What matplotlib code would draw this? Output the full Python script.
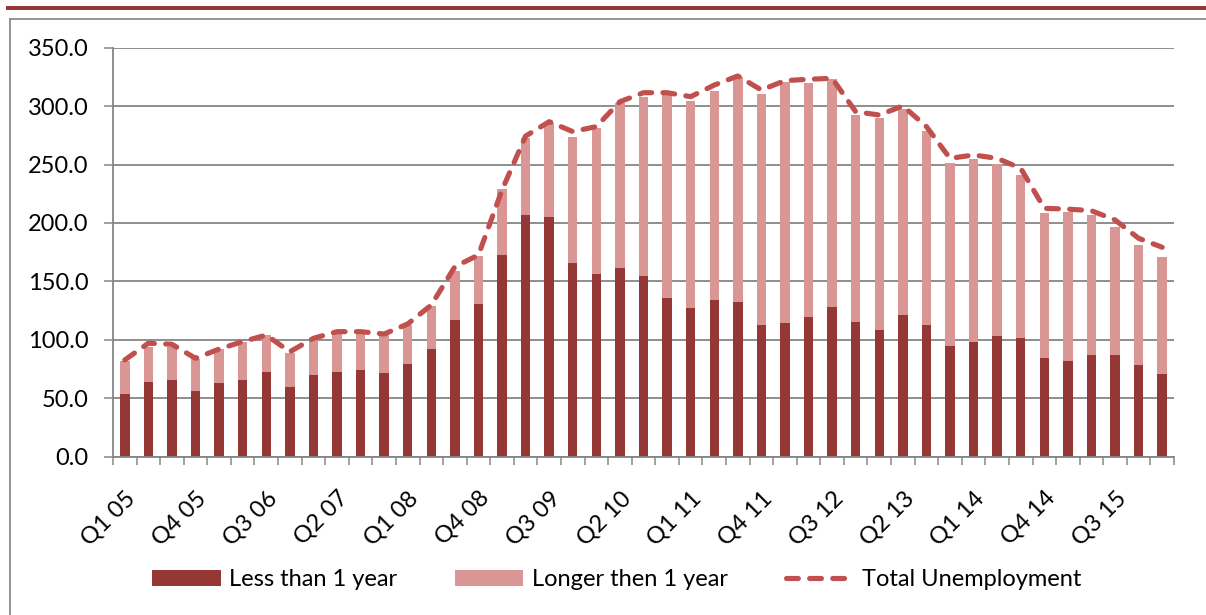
import matplotlib
matplotlib.use("Agg")
import matplotlib.pyplot as plt
import matplotlib.transforms as mtransforms
from matplotlib.lines import Line2D
from matplotlib.patches import Rectangle
import numpy as np

plt.rcParams['font.family'] = ['Lato', 'DejaVu Sans']

quarters = [f"Q{q} {y:02d}" for y in range(5, 17) for q in range(1, 5)][:45]

less_than_1y = [53.4, 64.2, 65.9, 56.0, 63.3, 65.9, 72.8, 59.9, 70.2, 72.8,
                74.5, 71.9, 79.3, 92.4, 117.3, 130.4, 172.7, 206.8, 205.4, 166.0,
                156.4, 161.8, 155.0, 136.1, 127.5, 134.3, 132.6, 113.0, 114.5, 119.3,
                128.3, 115.6, 108.4, 121.3, 113.0, 94.8, 97.9, 103.3, 101.9, 84.7,
                82.2, 87.3, 87.3, 78.8, 71.0]

bar_total = [82.2, 94.2, 93.5, 83.3, 92.1, 97.9, 104.1, 88.4, 99.9, 107.0,
             106.5, 104.1, 112.8, 128.9, 159.2, 171.7, 228.8, 273.0, 285.3, 273.8,
             281.6, 302.5, 308.1, 310.1, 304.4, 312.9, 325.2, 310.1, 321.0, 319.5,
             323.0, 292.4, 289.6, 297.2, 278.8, 251.1, 254.5, 250.2, 241.4, 208.5,
             209.7, 206.6, 196.9, 180.9, 171.2]

longer_than_1y = [round(t - s, 1) for t, s in zip(bar_total, less_than_1y)]

total_unemployment = [82.8, 97.1, 96.2, 84.2, 92.1, 98.5, 104.1, 89.8, 101.3, 107.0,
                      107.0, 105.0, 113.6, 129.8, 162.6, 172.6, 228.2, 274.4, 286.7, 278.2,
                      282.5, 303.8, 311.5, 311.5, 308.1, 318.0, 325.8, 313.8, 321.8, 323.0,
                      323.8, 295.2, 292.4, 300.2, 282.5, 255.3, 258.2, 255.3, 246.8, 212.5,
                      211.9, 210.5, 202.6, 186.9, 179.2]

yticks = [0, 50, 100, 150, 200, 250, 300, 350]

c_dark = '#953735'
c_light = '#D99694'
c_line = '#C0504D'
c_grid = '#868686'
fs = 17

W, H = 1206, 615
fig = plt.figure(figsize=(W / 100, H / 100), dpi=100)
ax = fig.add_axes([113 / W, 1 - 456.7 / H, (1174 - 113) / W, (456.7 - 47.7) / H])

x = np.arange(len(quarters))
b1 = ax.bar(x, less_than_1y, width=0.4, color=c_dark, label='Less than 1 year', zorder=2)
b2 = ax.bar(x, longer_than_1y, width=0.4, bottom=less_than_1y, color=c_light,
            label='Longer then 1 year', zorder=2)
l1, = ax.plot(x, total_unemployment, color=c_line, lw=3.7, linestyle=(0, (2.3, 2.2)),
              dash_capstyle='round', label='Total Unemployment', zorder=3)

ax.set_xlim(-0.5, len(quarters) - 0.5)
ax.set_ylim(0, 350)
ax.set_yticks(yticks)
ax.set_yticklabels([f"{v:.1f}" for v in yticks])
ax.yaxis.grid(True, color=c_grid, lw=1.3, zorder=0)
ax.set_axisbelow(True)

ax.set_xticks(x[::3])
ax.set_xticklabels(quarters[::3], rotation=45, ha='right', va='top',
                   rotation_mode='anchor')
shift = mtransforms.ScaledTranslation(4 / 100, 0, fig.dpi_scale_trans)
for lab in ax.get_xticklabels():
    lab.set_transform(lab.get_transform() + shift)
ax.set_xticks(np.arange(-0.5, len(quarters)), minor=True)
ax.tick_params(axis='x', which='major', length=0, pad=22, labelsize=fs)
ax.tick_params(axis='x', which='minor', length=6, width=1.1, color=c_grid, direction='out')
ax.tick_params(axis='y', length=6.5, width=1.1, color=c_grid, pad=11, labelsize=fs)

for s in ['top', 'right']:
    ax.spines[s].set_visible(False)
for s in ['left', 'bottom']:
    ax.spines[s].set_color(c_grid)
    ax.spines[s].set_linewidth(1.3)

leg = fig.legend(handles=[b1, b2, l1], loc='center', bbox_to_anchor=(617 / W, 1 - 580 / H),
                 ncol=3, frameon=False, fontsize=fs, handlelength=2.9, handleheight=0.65,
                 handletextpad=0.35, columnspacing=2.45)

# decorative top band and outer frame
fig.add_artist(Rectangle((6 / W, 1 - 10 / H), (W - 6) / W, 4 / H, transform=fig.transFigure,
                         color=c_dark, lw=0))
fig.add_artist(Line2D([10 / W, 1], [1 - 18.5 / H, 1 - 18.5 / H], transform=fig.transFigure,
                      color='#8c8c8c', lw=1.3))
fig.add_artist(Line2D([10 / W, 10 / W], [0, 1 - 18.5 / H], transform=fig.transFigure,
                      color='#8c8c8c', lw=1.3))

fig.savefig('out.png', dpi=100)
